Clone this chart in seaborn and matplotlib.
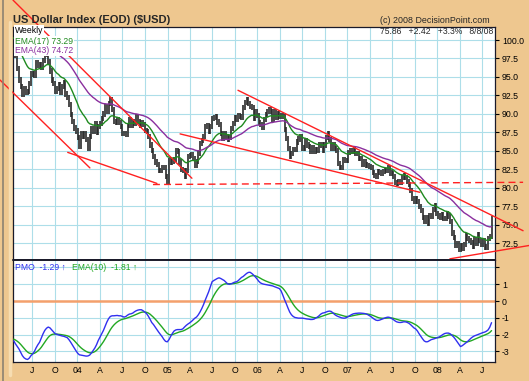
# US Dollar Index weekly chart with EMAs, trendlines and PMO panel

import matplotlib
matplotlib.use('Agg')
import matplotlib.pyplot as plt
from matplotlib.lines import Line2D
import seaborn as sns
import pandas as pd
import numpy as np

# weekly closes (Fridays), 18 Apr 2003 .. 8 Aug 2008, one line per month
close = [
    98.6, 97.9,
    96.2, 94.6, 93.7, 92.6, 93.4,
    92.9, 93.0, 94.1, 95.4,
    95.4, 95.2, 96.9, 96.5,
    96.7, 96.3, 97.2, 98.0, 98.1,
    97.1, 95.8, 94.6, 94.1,
    93.0, 93.4, 94.0, 92.9, 93.7,
    94.2, 92.7, 92.2, 91.3,
    89.9, 89.0, 88.1, 87.7,
    # 2004
    86.8, 85.6, 87.4, 86.9, 87.3,
    86.5, 85.4, 86.9, 88.0,
    87.6, 88.7, 87.5, 88.3,
    88.7, 89.4, 90.0, 91.0, 90.4,
    91.4, 92.0, 90.6, 89.0,
    88.9, 89.2, 88.8, 88.3,
    87.4, 87.3, 87.2, 88.4, 89.2,
    88.5, 88.9, 88.7, 89.6,
    89.0, 88.4, 88.8, 88.6,
    87.8, 87.6, 86.9, 85.8, 85.0,
    84.2, 83.5, 83.2, 82.4,
    82.3, 82.7, 82.8, 81.5, 80.9,
    # 2005
    83.7, 83.5, 83.6, 83.8,
    85.0, 84.9, 83.5, 82.5,
    82.4, 81.5, 82.3, 84.2,
    84.4, 84.5, 84.0, 83.0, 83.6,
    84.6, 86.0, 86.4, 87.0,
    88.3, 88.4, 87.7, 88.3,
    89.4, 89.5, 89.6, 88.9, 88.6,
    87.4, 86.7, 87.4, 87.0,
    86.6, 86.8, 88.0, 88.7, 89.5,
    89.2, 89.8, 89.6, 89.5,
    90.9, 91.6, 92.0, 91.4,
    91.0, 90.9, 89.4, 90.3, 89.8,
    # 2006
    88.8, 88.6, 88.2, 89.2,
    89.9, 90.3, 90.6, 90.3,
    89.3, 90.3, 89.5, 90.0, 89.7,
    89.8, 89.6, 87.9, 86.7,
    85.3, 84.3, 84.7, 85.2,
    85.2, 86.2, 86.6, 86.9, 85.4,
    85.4, 86.4, 85.8, 85.6,
    84.9, 85.4, 84.9, 85.2,
    85.1, 85.8, 85.8, 85.1, 85.8,
    86.8, 87.3, 86.5, 85.4,
    85.9, 85.3, 85.0, 83.3,
    82.8, 82.7, 83.8, 83.7, 83.7,
    # 2007
    84.8, 85.1, 84.9, 85.3,
    84.6, 84.7, 84.0, 84.0,
    83.2, 83.6, 83.1, 83.0, 82.9,
    82.7, 82.1, 81.7, 81.6,
    82.2, 82.1, 82.0, 82.2,
    82.3, 82.4, 82.8, 82.0, 81.9,
    81.5, 80.7, 80.6, 80.9,
    80.8, 81.4, 81.7, 81.4, 80.9,
    80.5, 79.6, 78.6, 78.2,
    78.5, 78.2, 77.5, 76.9,
    76.0, 75.5, 76.0, 75.2, 76.2,
    76.2, 77.1, 77.6, 76.5,
    # 2008
    76.2, 76.0, 76.4, 75.9,
    75.9, 76.5, 76.2, 75.4, 73.9,
    73.3, 72.2, 72.5, 71.7,
    72.2, 71.8, 72.3, 73.6,
    73.1, 72.9, 72.6, 72.1, 73.0,
    72.5, 73.7, 72.9, 72.3,
    72.9, 72.0, 71.9, 73.2,
    73.44, 75.86,
]

# price momentum oscillator, same weeks
pmo = [
    -2.37, -2.55,
    -2.70, -2.85, -3.05, -3.25, -3.38,
    -3.45, -3.48, -3.40, -3.25,
    -3.15, -3.00, -2.78, -2.60,
    -2.45, -2.20, -1.95, -1.75, -1.62,
    -1.55, -1.60, -1.72, -1.85,
    -1.95, -1.98, -2.02, -2.05, -2.08,
    -2.10, -2.14, -2.18, -2.30,
    -2.45, -2.62, -2.78, -2.95,
    # 2004
    -3.10, -3.20, -3.22, -3.24, -3.26,
    -3.28, -3.27, -3.22, -3.10,
    -2.95, -2.80, -2.60, -2.35,
    -2.15, -1.95, -1.75, -1.50, -1.25,
    -1.05, -0.92, -0.88, -0.88,
    -0.87, -0.86, -0.88, -0.88,
    -0.92, -0.96, -0.92, -0.84, -0.78,
    -0.76, -0.72, -0.64, -0.58,
    -0.54, -0.52, -0.52, -0.58,
    -0.66, -0.75, -0.90, -1.08, -1.28,
    -1.40, -1.55, -1.70, -1.85,
    -1.98, -2.12, -2.28, -2.40, -2.43,
    # 2005
    -2.30, -2.10, -1.92, -1.78,
    -1.72, -1.70, -1.70, -1.70,
    -1.66, -1.55, -1.45, -1.37,
    -1.30, -1.22, -1.12, -1.02, -0.95,
    -0.82, -0.65, -0.45, -0.22,
    0.05, 0.30, 0.55, 0.85,
    1.15, 1.22, 1.28, 1.34, 1.38,
    1.34, 1.28, 1.22, 1.12,
    1.02, 0.99, 1.02, 1.07, 1.12,
    1.14, 1.20, 1.30, 1.40,
    1.46, 1.55, 1.64, 1.70,
    1.71, 1.64, 1.55, 1.44, 1.32,
    # 2006
    1.18, 1.08, 1.03, 1.00,
    0.98, 0.96, 0.94, 0.92,
    0.90, 0.86, 0.82, 0.78, 0.74,
    0.60, 0.35, 0.08, -0.16,
    -0.42, -0.66, -0.82, -0.92,
    -0.98, -1.00, -1.02, -1.02, -1.02,
    -1.03, -1.05, -1.07, -1.08,
    -1.10, -1.10, -1.08, -1.02,
    -0.96, -0.88, -0.78, -0.72, -0.70,
    -0.66, -0.62, -0.60, -0.62,
    -0.70, -0.80, -0.87, -0.92,
    -0.96, -1.00, -1.02, -1.02, -0.98,
    # 2007
    -0.92, -0.86, -0.80, -0.76,
    -0.74, -0.73, -0.72, -0.72,
    -0.73, -0.74, -0.76, -0.80, -0.86,
    -0.92, -1.00, -1.08, -1.14,
    -1.16, -1.14, -1.10, -1.06,
    -1.02, -0.98, -0.96, -0.98, -1.04,
    -1.10, -1.18, -1.24, -1.27,
    -1.28, -1.27, -1.24, -1.24, -1.27,
    -1.32, -1.40, -1.50, -1.60,
    -1.66, -1.78, -1.95, -2.10,
    -2.25, -2.38, -2.43, -2.42, -2.36,
    -2.30, -2.27, -2.24, -2.20,
    # 2008
    -2.17, -2.12, -2.05, -1.98,
    -1.93, -1.91, -1.91, -1.95, -2.04,
    -2.14, -2.27, -2.42, -2.58,
    -2.71, -2.66, -2.58, -2.50,
    -2.42, -2.32, -2.22, -2.14, -2.08,
    -2.04, -2.00, -1.96, -1.92,
    -1.88, -1.85, -1.80, -1.72,
    -1.55, -1.29,
]

# EMA starting levels (carried in from before the visible window)
ema_seed = {17: 100.5, 43: 105.0}
pmo_signal_seed = -2.25

# chartist's trendlines: (start date, start value, end date, end value)
trend_lines = [
    ('2003-04-15', 105.4, '2005-04-10', 81.3),
    ('2003-02-21', 94.6, '2004-02-21', 82.7),
    ('2003-11-23', 84.8, '2004-11-19', 80.6),
    ('2005-02-21', 87.3, '2007-10-22', 79.4),
    ('2005-10-14', 93.2, '2008-12-14', 74.2),
    ('2008-02-21', 70.4, '2009-01-07', 72.2),
]
support_dashed = ('2004-11-03', 80.45, '2008-12-14', 80.75)

x_tick_labels = ['J', 'O', '04', 'A', 'J', 'O', '05', 'A', 'J', 'O', '06',
                 'A', 'J', 'O', '07', 'A', 'J', 'O', '08', 'A', 'J']
price_ticks = [72.5, 75.0, 77.5, 80.0, 82.5, 85.0, 87.5, 90.0, 92.5, 95.0, 97.5, 100.0]
pmo_ticks = [2, 1, 0, -1, -2, -3]
pmo_tick_labels = ['', '1', '0', '-1', '-2', '-3']

title = 'US Dollar Index (EOD) (\\$USD)'
credit = '(c) 2008 DecisionPoint.com'
last_quote = '75.86   +2.42   +3.3%   8/8/08'
legend_main = [('Weekly', 'black'), ('EMA(17) 73.29', '#1f8a1f'), ('EMA(43) 74.72', '#8a2f9e')]


def ema(values, span, seed):
    a = 2.0 / (span + 1)
    out, e = [], seed
    for v in values:
        e = e + a * (v - e)
        out.append(e)
    return out


BG = '#EEC78F'
GRID = '#ADDEE9'
W, H = 529, 381

sns.set_theme(style='white')
plt.rcParams['font.family'] = ['Liberation Sans', 'DejaVu Sans']

dates = pd.date_range('2003-04-18', periods=len(close), freq='W-FRI')
c = np.array(close)
prev = np.r_[c[0], c[:-1]]
ema17 = ema(close, 17, ema_seed[17])
ema43 = ema(close, 43, ema_seed[43])
signal = ema(pmo, 10, pmo_signal_seed)

fig = plt.figure(figsize=(W / 100, H / 100), dpi=100, facecolor=BG)
ax = fig.add_axes([13 / W, 1 - 260 / H, 482 / W, 233 / H])
ax2 = fig.add_axes([13 / W, 1 - 362 / H, 482 / W, 102 / H], sharex=ax)

# frame edge on the left of the picture
fig.add_artist(Line2D([2.5 / W, 2.5 / W], [0, 1], color='#8c8272', lw=1.2))
fig.add_artist(Line2D([10 / W, 10 / W], [1 - 375 / H, 1 - 22 / H], color='#F6DDB2', lw=2.5))

# --- price panel
ax.set_facecolor('white')
ax.grid(True, color=GRID, lw=0.8)
ax.vlines(dates, np.minimum(prev, c) - 0.35, np.maximum(prev, c) + 0.35,
          color='#2a2a2a', lw=1.2, zorder=3)
sns.lineplot(x=dates, y=ema17, ax=ax, color='#1f8a1f', lw=1.0, zorder=4)
sns.lineplot(x=dates, y=ema43, ax=ax, color='#8a2f9e', lw=1.0, zorder=4)

for d0, v0, d1, v1 in trend_lines:
    ax.plot([pd.Timestamp(d0), pd.Timestamp(d1)], [v0, v1], color='#ff2020',
            lw=1.0, clip_on=False, zorder=5)
d0, v0, d1, v1 = support_dashed
ax.plot([pd.Timestamp(d0), pd.Timestamp(d1)], [v0, v1], color='#ff2020',
        lw=1.0, ls=(0, (5, 3)), clip_on=False, zorder=5)

ax.set_ylim(70.24, 101.76)
ax.set_xlim(pd.Timestamp('2003-04-15'), pd.Timestamp('2008-08-22'))
ax.yaxis.tick_right()
ax.set_yticks(price_ticks)
ax.set_yticklabels([f'{v:.1f}' for v in price_ticks])
ax.tick_params(axis='y', direction='out', length=3, width=0.8, labelsize=6.3,
               pad=2, colors='black')
ax.tick_params(axis='x', length=0, labelbottom=False)
ax.set_xlabel('')
ax.set_ylabel('')

y_lab = [30.5, 41.5, 50.5]
for (txt, col), yy in zip(legend_main, y_lab):
    fig.text(15 / W, 1 - yy / H, txt, color=col, fontsize=6.2, va='center',
             ha='left', zorder=10,
             bbox=dict(facecolor='white', edgecolor='none', pad=0.6))
fig.text(493 / W, 1 - 31 / H, last_quote, fontsize=6.2, ha='right', va='center')

# --- PMO panel
ax2.set_facecolor('white')
ax2.grid(True, color=GRID, lw=0.8)
ax2.axhline(0, color='#F4A06C', lw=1.8, zorder=2)
sns.lineplot(x=dates, y=signal, ax=ax2, color='#22a822', lw=1.0, zorder=3)
sns.lineplot(x=dates, y=pmo, ax=ax2, color='#3030f0', lw=1.0, zorder=4)
ax2.set_ylim(-3.63, 2.44)
ax2.yaxis.tick_right()
ax2.set_yticks(pmo_ticks)
ax2.set_yticklabels(pmo_tick_labels)
ax2.tick_params(axis='y', direction='out', length=3, width=0.8, labelsize=6.3,
                pad=2, colors='black')

qticks = pd.date_range('2003-07-01', periods=len(x_tick_labels), freq='QS-JAN')
ax2.set_xticks(qticks)
ax2.set_xticklabels(x_tick_labels)
ax2.tick_params(axis='x', length=0, labelsize=6.3, pad=3, colors='black')
ax2.set_xlim(pd.Timestamp('2003-04-15'), pd.Timestamp('2008-08-22'))
ax2.set_xlabel('')
ax2.set_ylabel('')

fig.text(15 / W, 1 - 267.5 / H, 'PMO  -1.29 \u2191', color='#3030f0',
         fontsize=6.2, va='center')
fig.text(72 / W, 1 - 267.5 / H, 'EMA(10)  -1.81 \u2191', color='#22a822',
         fontsize=6.2, va='center')

for a in (ax, ax2):
    for s in a.spines.values():
        s.set_color('#1a1a2a')
        s.set_linewidth(0.9)
ax.spines['bottom'].set_linewidth(1.4)
ax2.spines['top'].set_linewidth(1.4)

fig.text(13 / W, 1 - 20 / H, title, fontsize=8, fontweight='bold', va='center')
fig.text(490 / W, 1 - 20.5 / H, credit, fontsize=6.4, ha='right', va='center')

fig.savefig('out.png', dpi=100, facecolor=BG)
